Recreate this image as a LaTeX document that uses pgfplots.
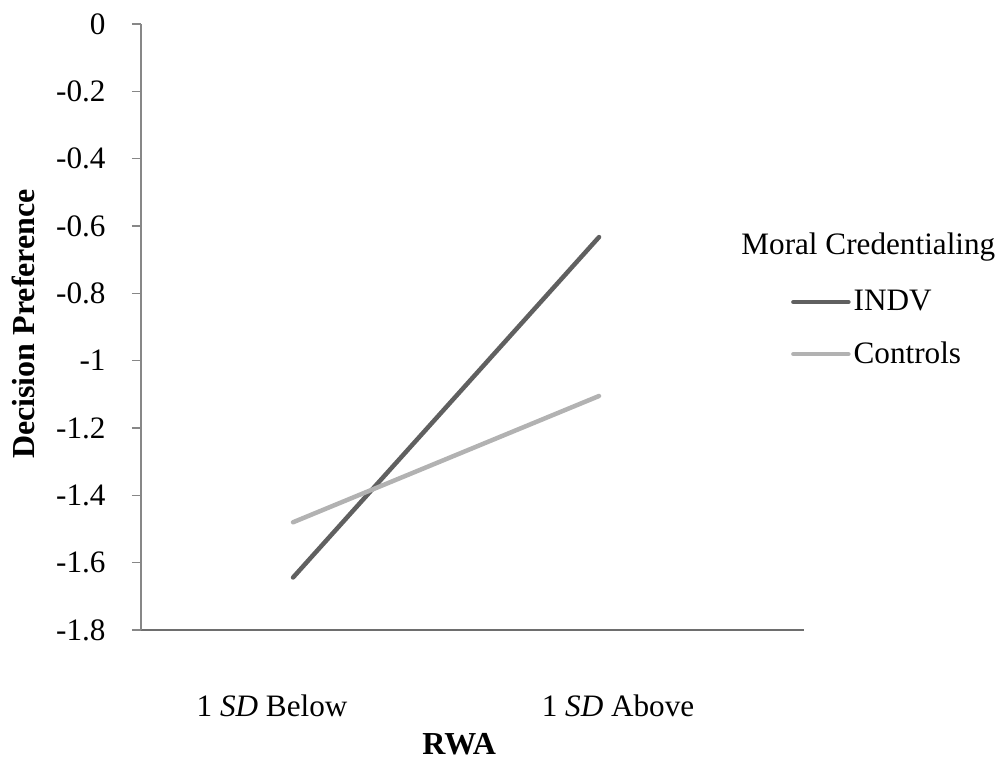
\documentclass[border=0pt]{standalone}
\usepackage{fontspec}
\setmainfont{Liberation Serif}
\usepackage{pgfplots}
\pgfplotsset{compat=1.18}
\definecolor{indv}{HTML}{606060}
\definecolor{ctrl}{HTML}{B2B2B2}
\definecolor{yaxis}{HTML}{878787}
\definecolor{xaxis}{HTML}{6E6E6E}

\begin{document}
\begin{tikzpicture}[x=1pt,y=1pt,font=\fontsize{15.6}{18}\selectfont]
\useasboundingbox (0,0) rectangle (502.5,387.5);
\begin{axis}[
  at={(70.5pt,72.5pt)}, anchor=south west,
  scale only axis, width=331.5pt, height=303pt,
  xmin=-0.497, xmax=1.670,
  ymin=-1.8, ymax=0,
  axis lines=left, axis line style={-},
  x axis line style={xaxis, line width=1pt},
  y axis line style={yaxis, line width=0.75pt},
  xtick={0,1},
  % category labels sit slightly apart from the line ends
  xticklabels={1 \textit{SD} Below\hspace*{21pt}, \hspace*{19pt}1 \textit{SD} Above},
  xtick style={draw=none},
  xticklabel style={anchor=base, inner sep=0pt, yshift=-38.5pt},
  ytick={-1.8,-1.6,-1.4,-1.2,-1,-0.8,-0.6,-0.4,-0.2,0},
  yticklabels={-1.8,-1.6,-1.4,-1.2,-1,-0.8,-0.6,-0.4,-0.2,0},
  tick align=outside, major tick length=4.5pt,
  ytick style={yaxis, line width=0.75pt},
  yticklabel style={anchor=east, inner sep=0pt, xshift=-13pt},
  xlabel={\textbf{RWA}},
  xlabel style={at={(axis description cs:0.48,-0.206)}, anchor=base, inner sep=0pt, font=\fontsize{16}{18}\selectfont},
  ylabel={\textbf{Decision Preference}},
  ylabel style={at={(axis description cs:-0.16,0.505)}, anchor=base, rotate=0, inner sep=0pt, font=\fontsize{16}{18}\selectfont},
  legend cell align=left,
  legend image code/.code={\draw[#1] (0pt,0pt) -- (27.5pt,0pt);},
  legend style={at={(axis description cs:0.980,0.561)}, anchor=north west,
    draw=none, fill=none, inner sep=0pt, row sep=14pt, column sep=1.5pt,
    nodes={inner sep=0pt}},
  clip=false,
]
\addplot[indv, line width=2.25pt, line cap=round] coordinates {(0,-1.644) (1,-0.633)};
\addlegendentry{INDV}
\addplot[ctrl, line width=2.25pt, line cap=round] coordinates {(0,-1.480) (1,-1.105)};
\addlegendentry{Controls}
\node[anchor=base west, inner sep=0pt] at (axis description cs:0.905,0.619) {Moral Credentialing};
\end{axis}
\end{tikzpicture}
\end{document}
